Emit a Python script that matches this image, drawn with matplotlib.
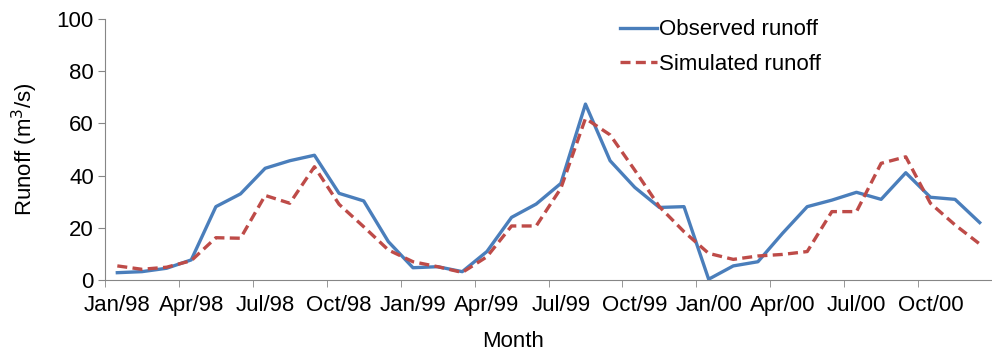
import matplotlib
matplotlib.use('Agg')
import matplotlib.pyplot as plt
import numpy as np

months = ['Jan/98', 'Feb/98', 'Mar/98', 'Apr/98', 'May/98', 'Jun/98',
          'Jul/98', 'Aug/98', 'Sep/98', 'Oct/98', 'Nov/98', 'Dec/98',
          'Jan/99', 'Feb/99', 'Mar/99', 'Apr/99', 'May/99', 'Jun/99',
          'Jul/99', 'Aug/99', 'Sep/99', 'Oct/99', 'Nov/99', 'Dec/99',
          'Jan/00', 'Feb/00', 'Mar/00', 'Apr/00', 'May/00', 'Jun/00',
          'Jul/00', 'Aug/00', 'Sep/00', 'Oct/00', 'Nov/00', 'Dec/00']

observed = [2.8, 3.2, 4.5, 7.7, 28.1, 33.0, 42.8, 45.7, 47.8, 33.2, 30.3, 14.7,
            4.7, 5.1, 3.2, 10.9, 24.0, 29.1, 37.0, 67.4, 45.7, 35.5, 27.8, 28.1,
            0.3, 5.4, 7.0, 17.9, 28.1, 30.6, 33.6, 30.9, 41.1, 31.7, 30.9, 22.0]

simulated = [5.4, 4.1, 4.9, 7.4, 16.2, 16.0, 32.4, 29.4, 43.4, 29.0, 20.4, 11.5,
             7.0, 5.1, 2.9, 8.9, 20.7, 20.7, 35.1, 61.9, 55.6, 42.1, 28.1, 18.5,
             10.2, 7.9, 9.2, 9.8, 10.9, 26.2, 26.2, 44.7, 47.2, 29.4, 21.1, 13.8]

plt.rcParams['font.family'] = ['Liberation Sans', 'DejaVu Sans']
fs = 16

fig = plt.figure(figsize=(9.92, 3.52), dpi=100)
ax = fig.add_axes([105 / 992, 72 / 352, 1 - 105 / 992, 261 / 352])

x = np.arange(len(months))
ax.plot(x, observed, color='#4A7EBB', lw=2.4, label='Observed runoff')
ax.plot(x, simulated, color='#BE4B48', lw=2.4, ls=(0, (3, 1.6)), label='Simulated runoff')

ax.set_xlim(-0.5, 35.2)
ax.set_ylim(0, 100)
ax.set_yticks(np.arange(0, 101, 20))

ax.set_xticks(x[::3])
ax.set_xticklabels(months[::3])
ax.set_xticks(np.arange(-0.5, 36, 3), minor=True)
ax.tick_params(axis='x', which='major', length=0, pad=10.5, labelsize=fs)
ax.tick_params(axis='x', which='minor', length=5, color='#868686')
ax.tick_params(axis='y', length=5, color='#868686', labelsize=fs, pad=3)

for s in ['top', 'right']:
    ax.spines[s].set_visible(False)
for s in ['left', 'bottom']:
    ax.spines[s].set_color('#868686')

ax.set_xlabel('Month', fontsize=fs)
ax.xaxis.set_label_coords(0.46, -0.195)
ax.set_ylabel('Runoff (m$^3$/s)', fontsize=fs, labelpad=12)

ax.legend(loc='upper left', bbox_to_anchor=(0.558, 1.075), frameon=False, fontsize=fs,
          handlelength=1.65, handletextpad=0.1, labelspacing=0.6)

fig.savefig('out.png', dpi=100)
